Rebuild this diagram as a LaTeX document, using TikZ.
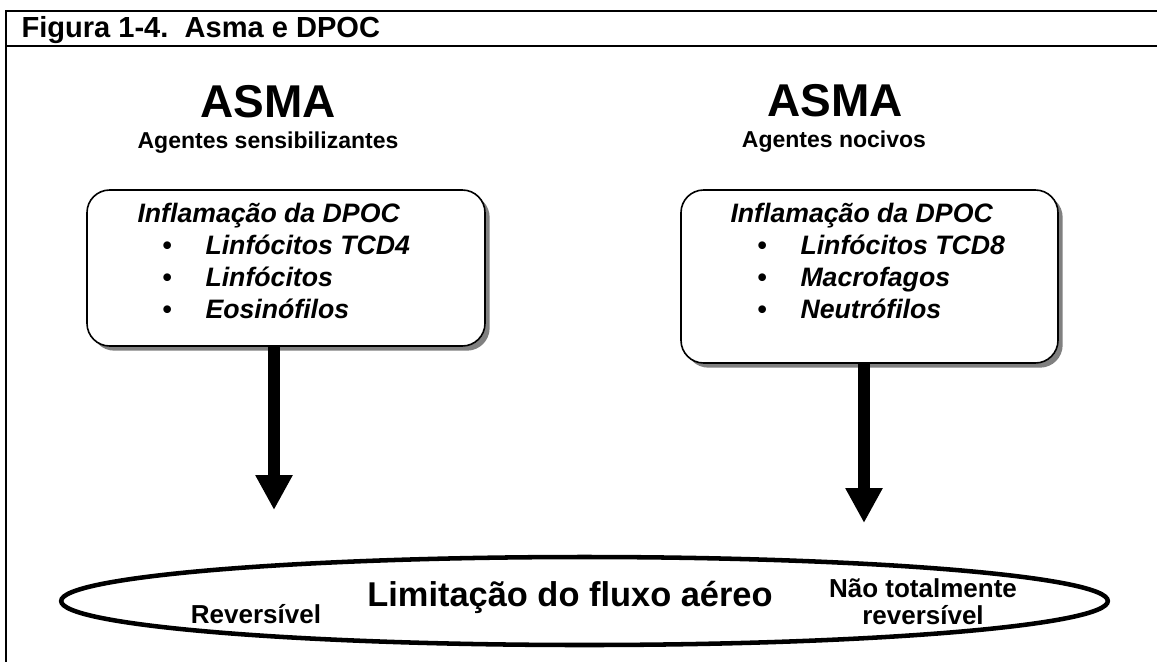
\documentclass[tikz,border=0pt]{standalone}
\usepackage{fontspec}
\setmainfont{Liberation Sans}
\usetikzlibrary{arrows.meta,shapes.geometric,shadows}

\tikzset{every picture/.style={line width=0.75pt}}
\tikzset{
  cellbox/.style={draw, line width=1.2pt, rounded corners=17pt, fill=white, inner sep=0pt,
    drop shadow={shadow xshift=3.5pt, shadow yshift=-3.5pt, fill=black!50, opacity=1}},
  flowarrow/.style={line width=8.6pt, -{Triangle[width=26.25pt,length=26.25pt]}},
  boxtext/.style={anchor=base west, inner sep=0pt, font=\fontsize{20}{24}\selectfont\bfseries\itshape},
  headtext/.style={anchor=base, inner sep=0pt, font=\fontsize{34.5}{40}\selectfont\bfseries},
  subtext/.style={anchor=base, inner sep=0pt, font=\fontsize{17.25}{21}\selectfont\bfseries},
}

\begin{document}
\begin{tikzpicture}[x=0.75pt,y=0.75pt,yscale=-1,xscale=1]
\useasboundingbox (0,0) rectangle (1157,662);

% Frame
\draw [line width=1.5pt] (1157,11) -- (5.5,11) -- (5.5,662);
\draw [line width=1.5pt] (5.5,46) -- (1157,46);
% Title
\node (title) at (21,37) [anchor=base west, inner sep=0pt, font=\fontsize{21.8}{26}\selectfont\bfseries] {Figura 1-4.\ \ Asma e DPOC};

% Left column
\node (lasma) at (268.5,117) [headtext] {ASMA};
\node (lagents) at (268,148) [subtext] {Agentes sensibilizantes};
\node (lbox) at (286,268) [cellbox, minimum width=298.5pt, minimum height=117pt] {};
\node (lhead) at (137,222) [boxtext] {Inflamação da DPOC};
\node (lcd4) at (162,254) [boxtext] {\makebox[32.25pt][l]{\upshape\textbullet}Linfócitos TCD4};
\node (llinf) at (162,286) [boxtext] {\makebox[32.25pt][l]{\upshape\textbullet}Linfócitos};
\node (leos) at (162,318) [boxtext] {\makebox[32.25pt][l]{\upshape\textbullet}Eosinófilos};

% Right column
\node (rasma) at (835,116) [headtext] {ASMA};
\node (ragents) at (834,147) [subtext] {Agentes nocivos};
\node (rbox) at (869.5,276.5) [cellbox, minimum width=282.75pt, minimum height=129.75pt] {};
\node (rhead) at (730,222) [boxtext] {Inflamação da DPOC};
\node (rcd8) at (757,254) [boxtext] {\makebox[32.25pt][l]{\upshape\textbullet}Linfócitos TCD8};
\node (rmac) at (757,286) [boxtext] {\makebox[32.25pt][l]{\upshape\textbullet}Macrofagos};
\node (rneu) at (757,318) [boxtext] {\makebox[32.25pt][l]{\upshape\textbullet}Neutrófilos};

% Airflow ellipse
\node (airflow) at (584.5,601) [draw, ellipse, line width=3.4pt, minimum width=785pt, minimum height=66pt, inner sep=0pt] {};
\node (rev) at (256,623) [anchor=base, inner sep=0pt, font=\fontsize{19.5}{23}\selectfont\bfseries] {Reversível};
\node (limit) at (570,606) [anchor=base, inner sep=0pt, font=\fontsize{25.8}{30}\selectfont\bfseries] {Limitação do fluxo aéreo};
\node (notrev) at (923,602) [align=center, inner sep=0pt, font=\fontsize{19.5}{20.25}\selectfont\bfseries] {Não totalmente\\reversível};

% Arrows
\coordinate (ltip) at (274,510);
\coordinate (rtip) at (864,523);
\draw [flowarrow] (lbox.south -| ltip) -- (ltip);
\draw [flowarrow] (rbox.south -| rtip) -- (rtip);

\end{tikzpicture}
\end{document}
